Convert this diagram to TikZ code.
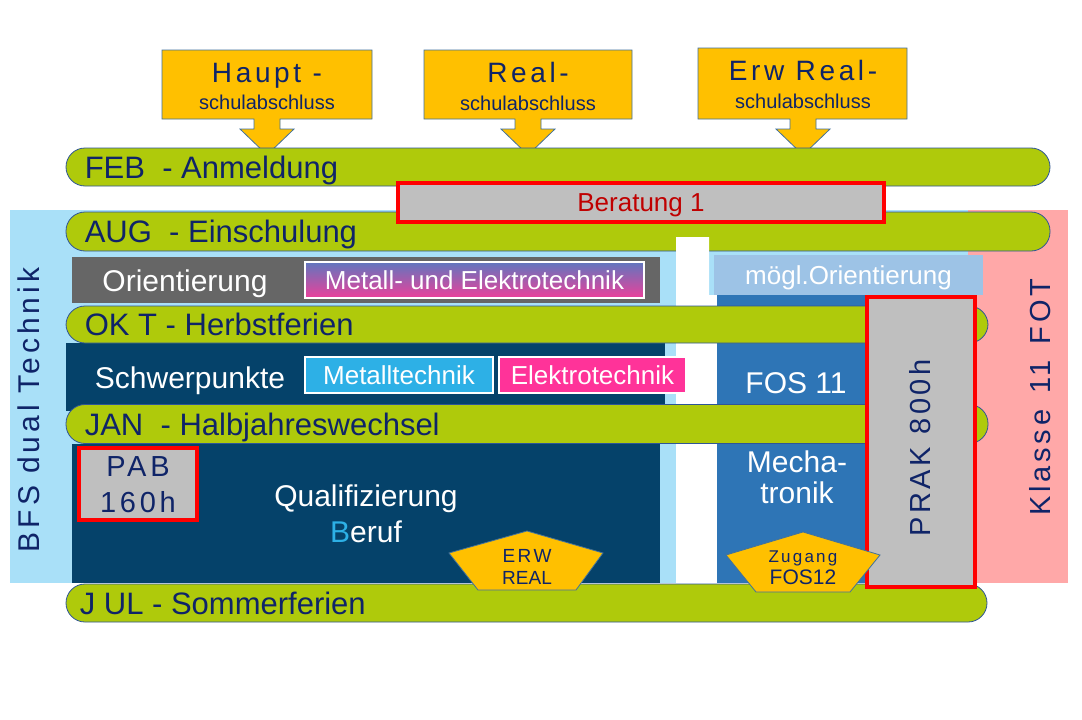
\documentclass[tikz,border=0pt]{standalone}
\usepackage{fontspec}
\setmainfont{Liberation Sans}
\newfontfamily\spacedfont[LetterSpace=13]{Liberation Sans}
\usepackage{xcolor}
\usetikzlibrary{positioning}
\definecolor{navy}{HTML}{0F2468}
\definecolor{barGreen}{HTML}{AFCA0B}
\definecolor{barLine}{HTML}{2F5597}
\definecolor{callOrange}{HTML}{FFC000}
\definecolor{callLine}{HTML}{41719C}
\definecolor{bfsBlue}{HTML}{A9E0F8}
\definecolor{fotPink}{HTML}{FFA8A8}
\definecolor{deepBlue}{HTML}{05426A}
\definecolor{fosBlue}{HTML}{2E75B6}
\definecolor{paleBlue}{HTML}{9DC3E6}
\definecolor{boxGray}{HTML}{BFBFBF}
\definecolor{oriGray}{HTML}{666666}
\definecolor{metCyan}{HTML}{2DB0E6}
\definecolor{elePink}{HTML}{FF3399}
\definecolor{darkRed}{HTML}{C00000}

\begin{document}
\begin{tikzpicture}[x=1pt, y=-1pt,
    every node/.style={inner sep=0pt, text depth=0pt},
    fsize/.style={font=\fontsize{#1}{#1}\selectfont, text height=\dimexpr #1pt*716/1000\relax},
    bar/.style={draw=barLine, line width=0.8pt, fill=barGreen, rounded corners=19pt, minimum height=38pt},
    bartext/.style={text=navy, fsize=31},
    redbox/.style={draw=red, line width=3.5pt, fill=boxGray},
    tagbox/.style={draw=white, line width=2pt, fill=#1, text=white, minimum height=36pt, fsize=26},
    whitetext/.style={text=white, fsize=30},
    navytext/.style={text=navy, font={\spacedfont\fontsize{#1}{#1}\selectfont}, text height=\dimexpr #1pt*716/1000\relax},
    subtext/.style={text=navy, fsize=20},
    callout/.style={draw=callLine, line width=0.8pt, fill=callOrange},
]
\useasboundingbox (0,0) rectangle (1082,720);
\fill[white] (0,0) rectangle (1082,720);

% background columns
\fill[bfsBlue] (10,210) rectangle (968,583);
\fill[fotPink] (968,210) rectangle (1068,583);

% top: leaving certificates
\foreach \cx/\lx/\rx/\ty in {267/162/372/50, 528/424/632/50, 803/698/907/48}
  \draw[callout] (\lx,\ty) -- (\rx,\ty) -- (\rx,119) -- (\cx+13,119) -- (\cx+13,129) -- (\cx+27,129)
    -- (\cx,155) -- (\cx-27,129) -- (\cx-13,129) -- (\cx-13,119) -- (\lx,119) -- cycle;
\node[navytext=28] (haupt) at (267,72) {Haupt -};
\node[subtext] (hauptsub) at (267,102) {schulabschluss};
\node[navytext=28] (real) at (528,72) {Real-};
\node[subtext] (realsub) at (528,103) {schulabschluss};
\node[navytext=28] (erw) at (803,70) {Erw Real-};
\node[subtext] (erwsub) at (803,101) {schulabschluss};

% FEB / AUG
\node[bar, minimum width=984pt] (feb) at (558,167) {};
\node[bartext, right=19pt of feb.west] (febtxt) {FEB\ \ - Anmeldung};
\node[bar, minimum width=984pt, minimum height=39pt] (aug) at (558,231.5) {};
\node[bartext, right=19pt of aug.west] (augtxt) {AUG\ \ - Einschulung};
\node[redbox, minimum width=486pt, minimum height=39pt, text=darkRed, fsize=26] (beratung) at (641,202.5) {Beratung 1};

% middle strip
\fill[white] (676,237) -- (709,237) -- (709,295) -- (717,295) -- (717,583) -- (676,583) -- cycle;

% BFS blocks
\fill[oriGray] (72,257) rectangle (660,303);
\node[whitetext] (orient) at (185,281) {Orientierung};
\node[tagbox=metCyan, top color={rgb,255:red,96;green,118;blue,190}, bottom color={rgb,255:red,236;green,64;blue,154}, minimum width=339pt] (metel) at (474.5,280) {Metall- und Elektrotechnik};
\fill[deepBlue] (66,343) rectangle (665,411);
\node[whitetext] (schwer) at (190,378) {Schwerpunkte};
\node[tagbox=metCyan, minimum width=188pt] (metall) at (399,375) {Metalltechnik};
\node[tagbox=elePink, minimum width=187pt] (elektro) at (592.5,375) {Elektrotechnik};
\fill[deepBlue] (72,444) rectangle (660,583);
\node[redbox, minimum width=118pt, minimum height=72pt] (pab) at (138,484) {};
\node[navytext=29] (pabtxt) at (138,466) {PAB};
\node[navytext=29] (pabh) at (138,502) {160h};
\node[whitetext] (quali) at (366,496) {Qualifizierung};
\node[whitetext] (beruf) at (366,532) {{\color{metCyan}B}eruf};

% FOS blocks
\node[fill=paleBlue, minimum width=269pt, minimum height=40pt, text=white, fsize=26] (moegl) at (848.5,275) {mögl.Orientierung};
\fill[fosBlue] (717,295) rectangle (870,583);
\node[whitetext] (fos) at (796,383) {FOS 11};
\node[whitetext] (mecha) at (797,462) {Mecha-};
\node[whitetext] (tronik) at (797,493) {tronik};

% OKT / JAN / JUL
\node[bar, minimum width=922pt, minimum height=37pt] (okt) at (527,324.5) {};
\node[bartext, right=19pt of okt.west] (okttxt) {OK T - Herbstferien};
\node[bar, minimum width=922pt, minimum height=39pt] (jan) at (527,424) {};
\node[bartext, right=19pt of jan.west] (jantxt) {JAN\ \ - Halbjahreswechsel};
\node[bar, minimum width=921pt] (jul) at (526.5,603) {};
\node[bartext, right=14pt of jul.west] (jultxt) {J UL - Sommerferien};

% practice block
\node[redbox, minimum width=108pt, minimum height=290pt] (prak) at (921,442) {};
\node[navytext=29, rotate=90] (praktxt) at (920,448) {PRAK 800h};

% exits
\draw[callout] (527,531) -- (603,553) -- (576,590) -- (478,590) -- (449,553) -- cycle;
\node[navytext=19] (erwreal) at (527,556) {ERW};
\node[text=navy, fsize=19] (erwreal2) at (527,578) {REAL};
\draw[callout] (803,532) -- (880,555) -- (850,592) -- (756,592) -- (726,555) -- cycle;
\node[navytext=17] (zugang) at (803,556) {Zugang};
\node[text=navy, fsize=21] (fos12) at (803,577) {FOS12};

% side labels
\node[navytext=30, rotate=90] (bfs) at (29,410) {BFS dual Technik};
\node[navytext=29, rotate=90] (klasse) at (1040,397) {Klasse\hspace{4pt} 11\hspace{4pt} FOT};
\end{tikzpicture}
\end{document}
